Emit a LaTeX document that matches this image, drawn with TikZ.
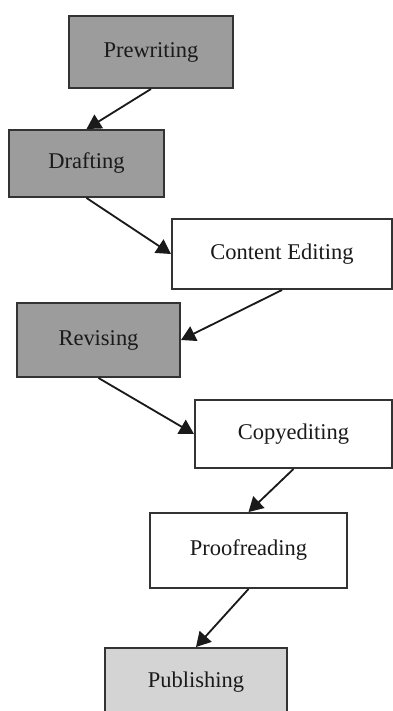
\documentclass[tikz,border=0pt]{standalone}
\usepackage{fontspec}
\setmainfont{Liberation Serif}
\usepackage{xcolor}
\usetikzlibrary{arrows.meta}
\definecolor{ink}    {HTML}{1A1A1A}
\definecolor{edge}   {HTML}{333333}
\definecolor{greybg} {HTML}{9C9C9C}
\definecolor{palebg} {HTML}{D4D4D4}
\tikzset{
  stage/.style = {draw=edge, line width=1.4pt, text=ink, align=center,
                  font=\fontsize{16}{19}\selectfont, inner sep=2pt},
  grey/.style  = {stage, fill=greybg},
  pale/.style  = {stage, fill=palebg},
  open/.style  = {stage, fill=white},
  flow/.style  = {-{Triangle[length=3.6mm, width=4mm]}, draw=ink, line width=1.3pt},
}
\begin{document}
\begin{tikzpicture}
  \useasboundingbox (0,0) rectangle (9.825,-17.775);
  \clip (0,0) rectangle (9.825,-17.775);
  \fill[white] (0,0) rectangle (9.825,-17.775);

  % stages
  \node[grey, minimum width=4.1cm,   minimum height=1.8cm]   (pre)   at (3.775,-1.3)    {Prewriting};
  \node[grey, minimum width=3.875cm, minimum height=1.675cm] (draft) at (2.1625,-4.0875) {Drafting};
  \node[open, minimum width=5.5cm,   minimum height=1.75cm]  (cont)  at (7.05,-6.35)    {Content Editing};
  \node[grey, minimum width=4.075cm, minimum height=1.85cm]  (rev)   at (2.4625,-8.5)   {Revising};
  \node[open, minimum width=4.925cm, minimum height=1.7cm]   (copy)  at (7.3375,-10.85) {Copyediting};
  \node[open, minimum width=4.925cm, minimum height=1.875cm] (proof) at (6.2125,-13.7625) {Proofreading};
  \node[pale, minimum width=4.55cm,  minimum height=1.7cm]   (pub)   at (4.9,-17.05)    {Publishing};

  % arrows
  \draw[flow] (pre.south)   -- (draft.north);
  \draw[flow] (draft.south) -- (cont.west);
  \draw[flow] (cont.south)  -- (rev.east);
  \draw[flow] (rev.south)   -- (copy.west);
  \draw[flow] (copy.south)  -- (proof.north);
  \draw[flow] (proof.south) -- (pub.north);
\end{tikzpicture}
\end{document}
